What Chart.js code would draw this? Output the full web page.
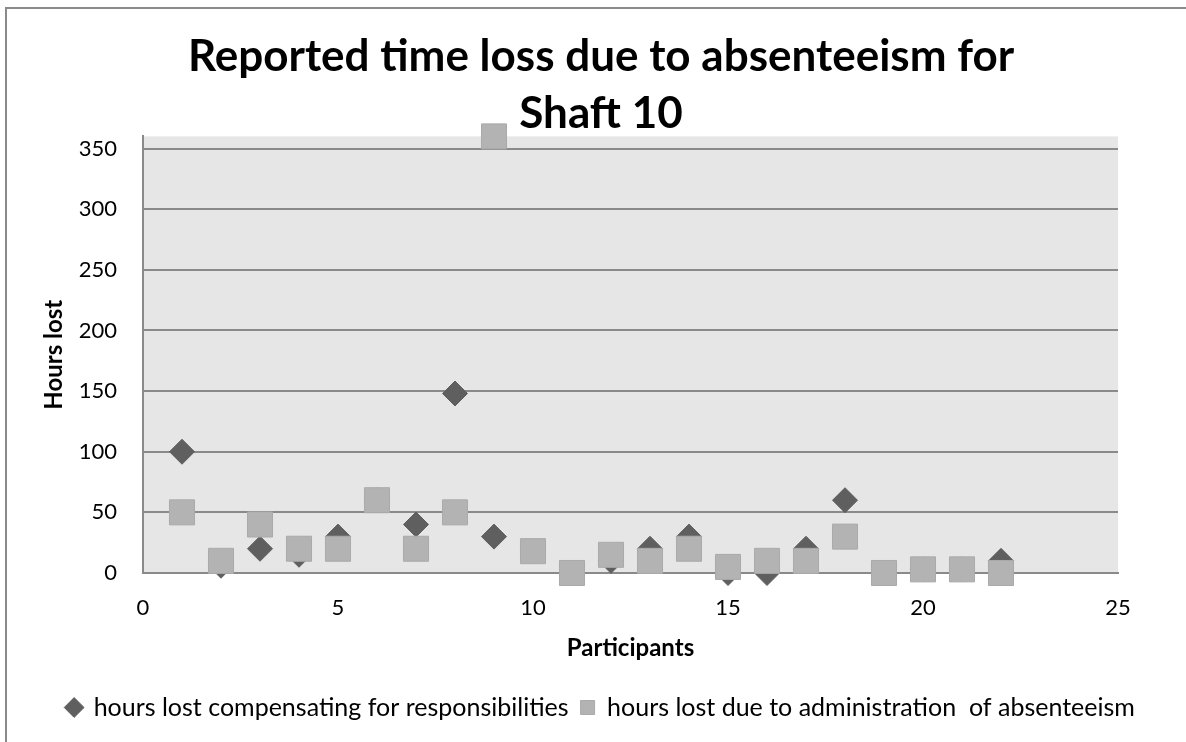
<!DOCTYPE html>
<html>
<head>
<meta charset="utf-8">
<script src="https://cdn.jsdelivr.net/npm/chart.js@4.4.0/dist/chart.umd.min.js"></script>
<style>
  html, body { margin: 0; padding: 0; background: #fff; overflow: hidden; }
  #box { position: relative; width: 1186px; height: 742px; }
</style>
</head>
<body>
<div id="box"><canvas id="myChart"></canvas></div>
<script>
// participant number on the x axis
let participants = [1,2,3,4,5,6,7,8,9,10,11,12,13,14,15,16,17,18,19,20,21,22];
// hours lost compensating for responsibilities
let compensating = [100,6,20,15,30,60,40,148,30,18,0,10,20,30,0,0,20,60,0,3,3,10];
// hours lost due to administration of absenteeism
let administration = [50,10,40,20,20,60,20,50,360,18,0,15,10,20,5,10,10,30,0,3,3,0];
let yTicks = [0,50,100,150,200,250,300,350];
let xTicks = [0,5,10,15,20,25];

let toPoints = (vals) => participants.map((p, i) => ({x: p, y: vals[i]}));

// grey plot area and the outer chart frame (cut off on the right and bottom)
let plotBackground = {
    id: "plotBackground",
    beforeDraw(chart) {
        let a = chart.chartArea;
        let c = chart.ctx;
        c.save();
        c.fillStyle = "#e6e6e6";
        c.fillRect(a.left, a.top, a.right - a.left, a.bottom - a.top);
        c.strokeStyle = "#8a8a8a";
        c.lineWidth = 2;
        c.beginPath();
        c.moveTo(6, chart.height);
        c.lineTo(6, 8);
        c.lineTo(chart.width, 8);
        c.stroke();
        c.restore();
    }
};

let font = "Lato";
let ctx = document.getElementById("myChart").getContext("2d");
let myChart = new Chart(ctx, {
    type: "scatter",
    data: {
        datasets: [{
            label: "hours lost compensating for responsibilities",
            data: toPoints(compensating),
            pointStyle: "rectRot",
            pointRadius: 12.5,
            pointHoverRadius: 12.5,
            backgroundColor: "#5f5f5f",
            borderColor: "#5f5f5f",
            borderWidth: 1,
            order: 1,
            clip: false
        },{
            label: "hours lost due to administration  of absenteeism",
            data: toPoints(administration),
            pointStyle: "rect",
            pointRadius: 17.7,
            pointHoverRadius: 17.7,
            backgroundColor: "#b3b3b3",
            borderColor: "#aaaaaa",
            borderWidth: 1,
            order: 0,
            clip: false
        }]
    },
    plugins: [plotBackground],
    options: {
        responsive: true,
        maintainAspectRatio: false,
        animation: false,
        layout: { padding: { left: 16, right: 0, top: 0, bottom: 12 } },
        plugins: {
            title: {
                display: true,
                text: ["Reported time loss due to absenteeism for", "Shaft 10"],
                color: "#000",
                font: { family: font, size: 44, weight: "bold", lineHeight: 1.3 },
                padding: { top: 28, bottom: -6 }
            },
            legend: {
                display: true,
                position: "bottom",
                reverse: true,
                labels: {
                    usePointStyle: true,
                    boxWidth: 14,
                    boxHeight: 14,
                    padding: 12,
                    color: "#000",
                    font: { family: font, size: 25 }
                }
            },
            tooltip: { enabled: false }
        },
        scales: {
            x: {
                type: "linear",
                min: 0,
                max: 25,
                afterBuildTicks: (axis) => { axis.ticks = xTicks.map(v => ({value: v})); },
                afterFit: (axis) => { axis.height = 110; },
                grid: { display: false, drawTicks: false },
                border: { display: true, color: "#8a8a8a", width: 2 },
                ticks: { color: "#000", padding: 22, font: { family: font, size: 22 } },
                title: {
                    display: true,
                    text: "Participants",
                    color: "#000",
                    font: { family: font, size: 24, weight: "bold" },
                    padding: { top: 0, bottom: 20 }
                }
            },
            y: {
                type: "linear",
                min: 0,
                max: 360,
                afterBuildTicks: (axis) => { axis.ticks = yTicks.map(v => ({value: v})); },
                afterFit: (axis) => { axis.width = 127; },
                grid: { color: "#8a8a8a", lineWidth: 2, drawTicks: false },
                border: { display: true, color: "#8a8a8a", width: 2 },
                ticks: { color: "#000", padding: 26, font: { family: font, size: 22 } },
                title: {
                    display: true,
                    text: "Hours lost",
                    color: "#000",
                    font: { family: font, size: 24, weight: "bold" },
                    padding: { top: 24, bottom: 0 }
                }
            },
            // empty axis on the right only keeps the plot clear of the right edge
            yRight: {
                type: "linear",
                position: "right",
                display: true,
                afterFit: (axis) => { axis.width = 68; },
                grid: { display: false, drawTicks: false },
                border: { display: false },
                ticks: { display: false }
            }
        }
    }
});
</script>
</body>
</html>
